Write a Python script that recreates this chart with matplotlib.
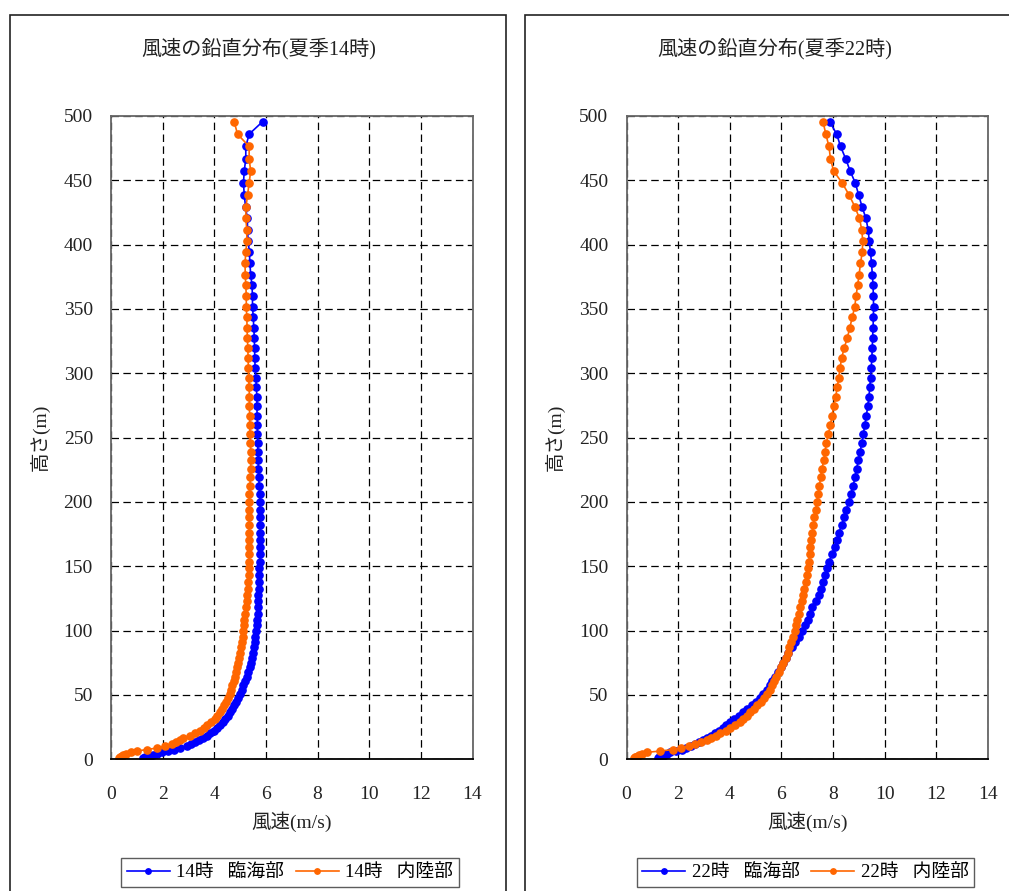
import matplotlib
matplotlib.use("Agg")
import matplotlib.pyplot as plt
from matplotlib.patches import Rectangle

plt.rcParams['font.family'] = ['Liberation Serif', 'Noto Sans CJK JP']

# model levels (m)
heights = [
    1.0, 1.5, 2.1, 2.8, 3.5, 4.4, 5.4, 6.4, 7.6, 8.8,
    10.2, 11.6, 13.2, 14.8, 16.5, 18.4, 20.3, 22.3, 24.4, 26.6,
    29.0, 31.4, 33.9, 36.5, 39.2, 42.0, 44.8, 47.8, 50.9, 54.1,
    57.4, 60.7, 64.2, 67.8, 71.4, 75.2, 79.0, 83.0, 87.0, 91.1,
    95.4, 99.7, 104.1, 108.6, 113.3, 118.0, 122.8, 127.7, 132.7, 137.8,
    143.0, 148.3, 153.7, 159.2, 164.7, 170.4, 176.2, 182.0, 188.0, 194.1,
    200.2, 206.5, 212.8, 219.3, 225.8, 232.5, 239.2, 246.0, 252.9, 259.9,
    267.1, 274.3, 281.6, 289.0, 296.5, 304.1, 311.8, 319.6, 327.5, 335.5,
    343.5, 351.7, 360.0, 368.4, 376.8, 385.4, 394.0, 402.8, 411.6, 420.6,
    429.6, 438.7, 448.0, 457.3, 466.7, 476.3, 485.9, 495.6,
]

# 14時 臨海部
wind_14_coast = [
    1.22, 1.30, 1.40, 1.52, 1.64, 1.80, 1.97, 2.20, 2.45, 2.68,
    2.95, 3.10, 3.25, 3.40, 3.56, 3.71, 3.84, 3.97, 4.10, 4.22,
    4.33, 4.42, 4.52, 4.61, 4.70, 4.78, 4.86, 4.93, 4.99, 5.06,
    5.12, 5.18, 5.25, 5.31, 5.37, 5.42, 5.46, 5.50, 5.53, 5.56,
    5.59, 5.61, 5.64, 5.66, 5.68, 5.69, 5.70, 5.71, 5.72, 5.73,
    5.74, 5.75, 5.76, 5.77, 5.77, 5.78, 5.78, 5.78, 5.78, 5.77,
    5.77, 5.76, 5.74, 5.72, 5.71, 5.70, 5.69, 5.68, 5.67, 5.67,
    5.66, 5.65, 5.65, 5.63, 5.61, 5.58, 5.57, 5.56, 5.55, 5.53,
    5.51, 5.48, 5.48, 5.46, 5.41, 5.38, 5.36, 5.31, 5.29, 5.28,
    5.21, 5.16, 5.13, 5.16, 5.22, 5.22, 5.35, 5.87,
]

# 14時 内陸部
wind_14_inland = [
    0.30, 0.33, 0.37, 0.42, 0.48, 0.60, 0.78, 1.00, 1.38, 1.80,
    2.11, 2.35, 2.52, 2.67, 2.80, 3.07, 3.27, 3.46, 3.59, 3.71,
    3.86, 4.01, 4.11, 4.21, 4.31, 4.39, 4.47, 4.55, 4.61, 4.66,
    4.70, 4.75, 4.79, 4.84, 4.89, 4.93, 4.97, 5.01, 5.04, 5.07,
    5.10, 5.12, 5.15, 5.17, 5.20, 5.23, 5.26, 5.28, 5.30, 5.31,
    5.33, 5.35, 5.35, 5.35, 5.35, 5.35, 5.35, 5.35, 5.35, 5.35,
    5.35, 5.36, 5.38, 5.40, 5.41, 5.41, 5.41, 5.40, 5.38, 5.37,
    5.37, 5.36, 5.36, 5.35, 5.33, 5.32, 5.31, 5.30, 5.28, 5.27,
    5.26, 5.24, 5.24, 5.22, 5.20, 5.19, 5.22, 5.26, 5.26, 5.22,
    5.23, 5.29, 5.35, 5.41, 5.35, 5.35, 4.90, 4.77,
]

# 22時 臨海部
wind_22_coast = [
    1.22, 1.27, 1.33, 1.41, 1.48, 1.56, 1.67, 1.90, 2.14, 2.32,
    2.51, 2.66, 2.82, 2.97, 3.12, 3.28, 3.43, 3.57, 3.72, 3.86,
    4.02, 4.18, 4.34, 4.51, 4.68, 4.85, 5.01, 5.17, 5.30, 5.43,
    5.54, 5.65, 5.76, 5.87, 5.97, 6.07, 6.17, 6.27, 6.40, 6.53,
    6.67, 6.80, 6.92, 7.01, 7.10, 7.20, 7.35, 7.47, 7.55, 7.62,
    7.69, 7.76, 7.84, 7.97, 8.08, 8.16, 8.23, 8.33, 8.43, 8.52,
    8.60, 8.69, 8.78, 8.85, 8.91, 8.98, 9.05, 9.11, 9.17, 9.23,
    9.29, 9.34, 9.39, 9.42, 9.45, 9.48, 9.50, 9.52, 9.53, 9.55,
    9.56, 9.57, 9.56, 9.55, 9.52, 9.49, 9.45, 9.40, 9.36, 9.27,
    9.12, 8.99, 8.86, 8.66, 8.49, 8.29, 8.14, 7.87,
]

# 22時 内陸部
wind_22_inland = [
    0.30, 0.34, 0.38, 0.43, 0.49, 0.60, 0.78, 1.30, 1.80, 2.13,
    2.42, 2.65, 2.89, 3.10, 3.27, 3.45, 3.64, 3.84, 4.02, 4.22,
    4.38, 4.52, 4.66, 4.80, 4.93, 5.06, 5.20, 5.33, 5.44, 5.54,
    5.63, 5.72, 5.80, 5.89, 5.98, 6.07, 6.16, 6.24, 6.30, 6.37,
    6.45, 6.51, 6.56, 6.61, 6.67, 6.73, 6.80, 6.84, 6.89, 6.94,
    6.98, 7.02, 7.06, 7.09, 7.12, 7.15, 7.19, 7.23, 7.28, 7.33,
    7.37, 7.42, 7.47, 7.52, 7.57, 7.64, 7.69, 7.74, 7.82, 7.90,
    7.96, 8.02, 8.10, 8.16, 8.22, 8.27, 8.33, 8.43, 8.55, 8.65,
    8.74, 8.84, 8.89, 8.95, 9.01, 9.06, 9.13, 9.15, 9.11, 9.02,
    8.84, 8.62, 8.35, 8.02, 7.90, 7.84, 7.72, 7.61,
]

x_ticks = [0, 2, 4, 6, 8, 10, 12, 14]
y_ticks = [0, 50, 100, 150, 200, 250, 300, 350, 400, 450, 500]

panels = [
    ("風速の鉛直分布(夏季14時)", "14時", wind_14_coast, wind_14_inland),
    ("風速の鉛直分布(夏季22時)", "22時", wind_22_coast, wind_22_inland),
]

W, H = 1009, 891
fig = plt.figure(figsize=(W / 100, H / 100), dpi=100)

frame_x = [10, 525]
axes_x = [111, 626.5]

for i, (title, hour, coast, inland) in enumerate(panels):
    # chart area border
    fig.patches.append(Rectangle((frame_x[i] / W, -0.02), 496 / W, (H - 15) / H + 0.02,
                                 transform=fig.transFigure, fill=False,
                                 edgecolor='#222222', linewidth=1.2))

    ax = fig.add_axes([axes_x[i] / W, 131.7 / H, 361.5 / W, 643.3 / H])
    ax.plot(coast, heights, color='#0000ff', marker='o', markersize=5.2,
            linewidth=1.2, label=hour + " \u2002臨海部")
    ax.plot(inland, heights, color='#ff6600', marker='o', markersize=5.2,
            linewidth=1.2, label=hour + " \u2002内陸部")

    ax.set_xlim(0, 14)
    ax.set_ylim(0, 500)
    ax.set_xticks(x_ticks)
    ax.set_yticks(y_ticks)
    ax.tick_params(axis='both', labelsize=14, direction='in', length=0, colors='#222222')
    ax.tick_params(axis='x', pad=19)
    ax.tick_params(axis='y', pad=13)
    ax.grid(True, color='black', linestyle=(0, (6, 3.5)), linewidth=0.9)
    for side in ['top', 'right', 'left']:
        ax.spines[side].set_color('#666666')
        ax.spines[side].set_linewidth(1.3)
    ax.spines['bottom'].set_color('black')
    ax.spines['bottom'].set_linewidth(1.3)

    ax.set_xlabel("風速(m/s)", fontsize=14, color='#222222', labelpad=6)
    ax.set_ylabel("高さ(m)", fontsize=14, color='#222222', labelpad=10)

    cx = axes_x[i] + 361.5 / 2 - 33
    fig.text(cx / W, 1 - 49 / H, title, ha='center', va='center',
             fontsize=14.5, color='#222222')

    ax.legend(loc='upper center', bbox_to_anchor=((axes_x[i] + 179) / W, 1 - 849 / H),
              bbox_transform=fig.transFigure, ncol=2, fontsize=13.5,
              frameon=True, fancybox=False, edgecolor='#333333',
              handlelength=2.3, columnspacing=0.6, handletextpad=0.35,
              borderpad=0.3, markerscale=0.75)

fig.savefig("out.png", dpi=100)
